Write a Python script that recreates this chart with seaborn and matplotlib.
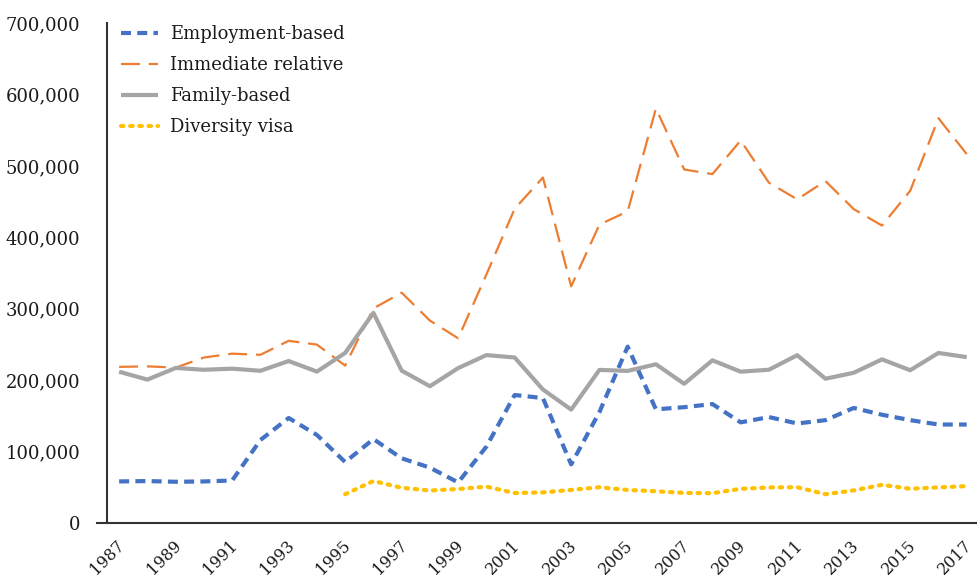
import numpy as np
import pandas as pd
import seaborn as sns
import matplotlib.pyplot as plt
import matplotlib.transforms as mtransforms
from matplotlib.ticker import FuncFormatter

years = list(range(1987, 2018))

employment = [58216, 58727, 57741, 58192, 59525, 116198, 147012, 123291, 85336, 117499,
              90607, 77517, 56817, 107024, 179195, 174968, 82137, 155330, 246877, 159081,
              162176, 166511, 140903, 148343, 139339, 143998, 161110, 151596, 144047, 137893, 137855]

immediate = [218575, 219340, 217514, 231680, 237103, 235484, 255059, 249764, 220360, 300430,
             322440, 283368, 258584, 347870, 439972, 483676, 331286, 417815, 436231, 580348,
             494920, 488483, 535554, 476414, 453158, 478780, 439460, 416456, 465068, 566706, 516508]

family = [211809, 200772, 217092, 214550, 216088, 213123, 226776, 211961, 238122, 294174,
          213331, 191480, 216883, 235092, 231699, 186880, 158796, 214355, 212970, 222229,
          194900, 227761, 211859, 214589, 234931, 202019, 210303, 229104, 213910, 238087, 232238]

diversity = [None] * 8 + [40301, 58790, 49374, 45499, 47571, 50920, 42015, 42820, 46335,
                          50084, 46234, 44471, 42127, 41761, 47879, 49763, 50103, 40320,
                          45618, 53490, 47934, 49865, 51592]

labels = ["Employment-based", "Immediate relative", "Family-based", "Diversity visa"]
colors = ["#4472C4", "#ED7D31", "#A5A5A5", "#FFC000"]

df = pd.DataFrame({"year": years,
                   labels[0]: employment,
                   labels[1]: immediate,
                   labels[2]: family,
                   labels[3]: diversity}).astype(float)

sns.set_style("white")
plt.rcParams["font.family"] = ["DejaVu Serif"]

fig = plt.figure(figsize=(9.78, 5.81), dpi=100)
ax = fig.add_axes([0.1094, 0.0998, 0.8906, 0.8606])

# line styles: (linewidth, dash pattern, cap)
styles = [
    (3.0, (2.4, 1.5), "butt"),
    (1.6, (8.5, 4.0), "butt"),
    (3.0, None, "butt"),
    (3.0, (0.6, 1.6), "round"),
]

for lab, col, (lw, dash, cap) in zip(labels, colors, styles):
    sns.lineplot(data=df, x="year", y=lab, ax=ax, color=col, linewidth=lw,
                 label=lab, solid_capstyle="butt", dash_capstyle=cap)
    line = ax.get_lines()[-1]
    if dash is not None:
        line.set_dashes(dash)

ax.set_xlim(1986.57, 2017.4)
ax.set_ylim(0, 700000)
ax.set_xticks(range(1987, 2018, 2))
ax.set_yticks(range(0, 700001, 100000))
ax.yaxis.set_major_formatter(FuncFormatter(lambda v, p: f"{int(v):,}"))
ax.set_xlabel("")
ax.set_ylabel("")

for s in ["top", "right"]:
    ax.spines[s].set_visible(False)
for s in ["left", "bottom"]:
    ax.spines[s].set_color("#333333")
    ax.spines[s].set_linewidth(1.5)
# x-axis line pokes out a little left of the y-axis
ax.spines["bottom"].set_bounds(1986.2, 2017.4)

ax.tick_params(axis="both", which="major", direction="out", length=7, width=1.3,
               color="#333333", labelcolor="#1a1a1a")
ax.tick_params(axis="y", pad=12, labelsize=13)
ax.tick_params(axis="x", pad=3, labelsize=11.5)
shift = mtransforms.ScaledTranslation(-3 / 100, 0, fig.dpi_scale_trans)
for lbl in ax.get_xticklabels():
    lbl.set_rotation(45)
    lbl.set_ha("right")
    lbl.set_va("top")
    lbl.set_rotation_mode("anchor")
    lbl.set_transform(lbl.get_transform() + shift)

leg = ax.legend(loc="upper left", bbox_to_anchor=(0.0, 1.025), frameon=False,
                fontsize=13, handlelength=2.0, handletextpad=0.7, labelspacing=0.72,
                borderaxespad=0.5, borderpad=0.3)
for t in leg.get_texts():
    t.set_color("#1a1a1a")

fig.savefig("out.png", dpi=100)
plt.close(fig)
